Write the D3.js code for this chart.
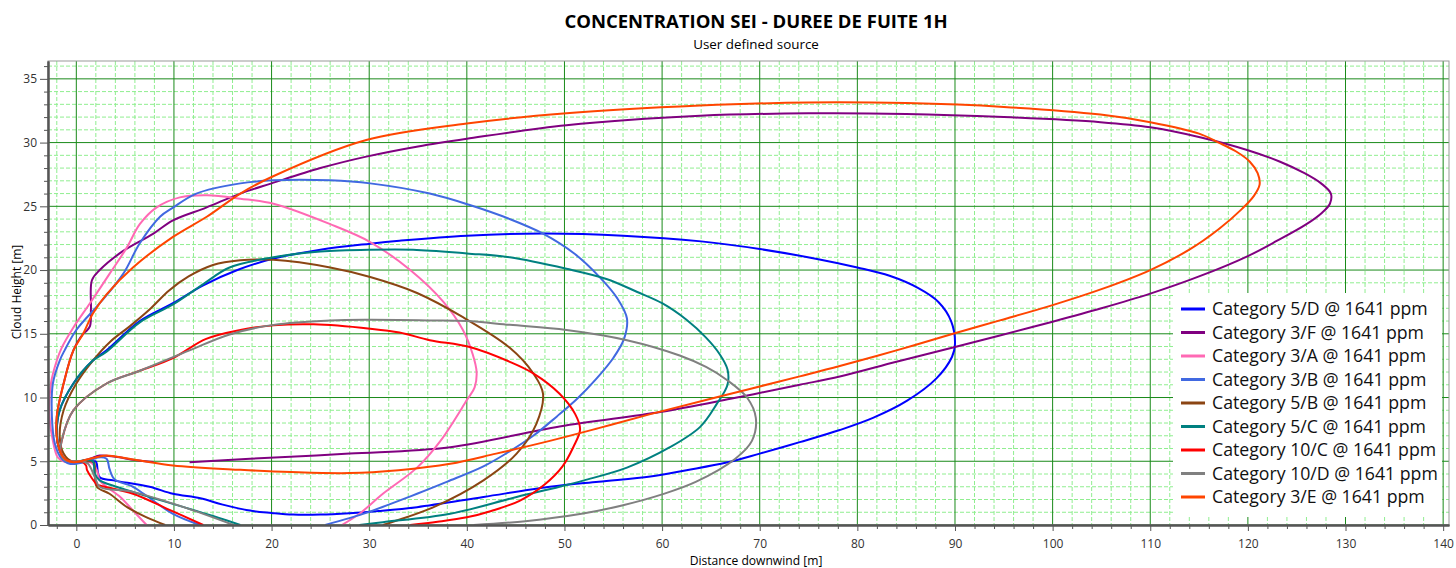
<!DOCTYPE html>
<html>
<head>
<meta charset="utf-8">
<script src="https://cdn.jsdelivr.net/npm/d3@7"></script>
<style>
  body { margin: 0; background: #fff; }
  #chart { width: 1456px; height: 568px; }
  text { font-family: "Open Sans", "Liberation Sans", sans-serif; }
</style>
</head>
<body>
<div id="chart"></div>
<script>
// series labels, in legend order
const categories = ["Category 5/D @ 1641 ppm", "Category 3/F @ 1641 ppm", "Category 3/A @ 1641 ppm",
  "Category 3/B @ 1641 ppm", "Category 5/B @ 1641 ppm", "Category 5/C @ 1641 ppm",
  "Category 10/C @ 1641 ppm", "Category 10/D @ 1641 ppm", "Category 3/E @ 1641 ppm"];

// cloud contours, [distance downwind m, height m]
const cat5D = [[2.0,5.0],[2.1,4.8],[2.4,3.75],[3.8,3.5],[7.5,3.0],[9.9,2.45],[12.7,2.1],[15,1.6],[17.8,1.13],[20,0.95],
  [22.2,0.82],[25,0.82],[28,0.93],[31,1.1],[34.9,1.4],[41.7,2.2],[48.5,3.0],[53.5,3.4],[58.8,3.8],[62.5,4.3],[66.6,4.9],
  [70,5.6],[74.1,6.5],[78.2,7.45],[81.6,8.4],[85.1,9.75],[88.1,11.5],[89.7,13.2],[90,14.2],[89.6,16.0],[88.3,17.5],
  [86.2,18.6],[83.3,19.55],[80,20.2],[76,20.85],[70,21.65],[64,22.25],[56,22.7],[47.8,22.86],[40,22.7],[33.1,22.3],
  [30.1,22.07],[25,21.6],[20.2,20.9],[16.5,20.0],[13,18.8],[9.9,17.4],[6.5,16.0],[3.1,13.7],[1.7,12.9],[-0.3,11.1],
  [-1.7,9.0],[-2.0,7.2],[-1.7,5.85],[-1.2,5.2],[-0.3,4.93],[1.4,5.0],[2.0,5.0]];
const cat3F = [[7.9,4.95],[6,5.1],[4,5.35],[2.4,5.45],[1.4,5.2],[-0.3,4.93],[-1.3,5.3],[-1.9,6.4],[-2.0,8.5],[-1.3,11.1],
  [-0.3,13.7],[0.7,15.0],[1.0,15.2],[1.4,15.6],[1.5,17.0],[1.6,19.2],[2.4,20],[4.8,21.5],[7.9,22.86],[9.9,23.9],
  [13.3,24.9],[16.8,26.0],[20,26.8],[25,28.0],[29.7,28.9],[35,29.7],[40,30.3],[50.2,31.36],[63.9,32.1],[75,32.3],
  [85,32.25],[95,32.0],[104.9,31.6],[110,31.2],[115.2,30.4],[120,29.4],[123.3,28.5],[125.8,27.6],[127.5,26.8],[128.5,26.0],
  [128.4,25.2],[127.6,24.5],[126,23.6],[123,22.3],[120,21.1],[115,19.5],[110,18.15],[105,17.0],[100,15.95],[94.6,14.87],
  [90,13.96],[84,12.8],[78.2,11.65],[74.1,11.0],[67,9.9],[59.8,8.86],[49.5,7.73],[38.3,6.1],[28,5.6],[17.8,5.2],[11.6,4.93]];
const cat3A = [[7.2,0],[5.8,1.14],[4.5,2.2],[3.1,3.0],[2.4,3.5],[2.1,4.3],[1.5,4.9],[0.5,5.0],[-1.2,4.95],[-1.9,5.3],
  [-2.4,6.6],[-2.75,8.5],[-2.6,11.1],[-2.0,12.9],[-1.5,13.9],[-0.3,15.5],[1.4,17.4],[3.4,19.7],[5.2,21.8],[6.5,23.6],
  [8.2,24.9],[10.6,25.7],[13.4,25.86],[16.8,25.6],[20.2,25.2],[26,23.6],[30.1,22.2],[34.2,20.0],[37.6,17.5],[39.6,15.3],
  [40.6,13.4],[41,12.0],[40.8,10.8],[40,9.8],[37.3,6.6],[34.9,4.5],[31.4,2.45],[29,0.88],[27.2,0]];
const cat3B = [[12.7,0],[9.9,0.88],[6.9,2.45],[5.8,3.0],[3.9,3.6],[3.4,4.4],[3.1,5.2],[2.2,5.3],[1.2,5.0],[-0.7,4.8],
  [-1.5,5.2],[-2.2,6.4],[-2.5,8.5],[-2.4,11.1],[-1.7,12.9],[-1.2,13.7],[0,15.3],[2.4,17.4],[4.8,19.7],[6.5,22.1],
  [8.6,24.2],[9.9,24.9],[12.3,26.0],[16.8,26.8],[20.2,27.04],[26,27.04],[30.1,26.8],[36.2,26.0],[40.3,25.1],[44.4,24.0],
  [47.8,22.86],[51,21.3],[53.6,19.45],[55.4,17.8],[56.4,16.2],[56.1,14.6],[55,13.1],[53.3,11.5],[51.3,9.9],[49.2,8.5],
  [46.8,7.0],[44,5.6],[41.7,4.6],[38,3.4],[34.9,2.45],[32,1.6],[29.7,0.95],[25.5,0]];
const cat5B = [[9.1,0],[7.2,0.6],[5.2,1.4],[3.4,2.45],[2.1,3.0],[1.9,4.0],[1.8,4.9],[1.0,5.0],[-0.5,5.0],[-1.3,5.6],
  [-1.7,6.9],[-1.3,9.0],[0,11.1],[1.7,12.9],[3.5,14.4],[5.5,15.6],[7.5,16.9],[9.5,18.4],[11.5,19.5],[14,20.4],
  [16.8,20.76],[20.2,20.8],[26,20.2],[30.1,19.45],[34.9,18.2],[39.6,16.3],[44.4,13.9],[46.8,11.9],[47.8,10.3],
  [47.1,7.9],[45.1,5.6],[41.7,3.5],[36.6,1.4],[31.4,0]];
const cat5C = [[16.8,0],[14,0.7],[11,1.4],[7.5,2.2],[4.1,3.0],[2.4,3.5],[1.9,4.0],[1.7,5.0],[1.0,5.1],[-0.3,4.95],
  [-1.2,5.2],[-1.7,5.85],[-2.0,7.2],[-1.7,9.0],[-0.3,11.1],[1.7,12.9],[3.1,13.6],[6.5,15.9],[9.9,17.3],[13,18.9],
  [15.7,20.2],[20.2,21.0],[25,21.45],[30.1,21.6],[34.5,21.6],[40,21.3],[44.4,21.0],[50.2,20.1],[54.3,19.3],[57.4,18.3],
  [60,17.4],[62.5,16.1],[64.5,14.7],[65.9,13.4],[66.7,12.2],[66.7,11.0],[65.6,9.5],[63.9,7.7],[60.8,6.1],[56.4,4.5],
  [52,3.5],[49.5,3.0],[45.1,2.2],[38.3,0.88],[31.4,0.22],[29,0]];
const cat10C = [[13,0],[9.3,1.27],[5.8,2.45],[2.4,3.1],[2.1,3.2],[1.1,4.3],[1.0,4.67],[0.5,5.0],[-0.5,5.0],[-1.3,5.2],
  [-1.6,5.9],[-1.5,6.6],[-0.3,9.0],[3.1,11.1],[6.5,12.1],[9.9,13.1],[13.3,14.6],[16.8,15.3],[20.2,15.66],[24.3,15.74],
  [30.1,15.4],[33.1,15.1],[36.2,14.5],[40.3,13.96],[44.4,12.8],[46.8,11.9],[49.5,10.3],[51.1,8.7],[51.6,7.5],[50.9,6.1],
  [49.8,4.6],[48,3.2],[45.4,1.9],[42.5,1.1],[40,0.6],[37,0.25],[34.2,0]];
const cat10D = [[16.1,0],[11,1.4],[5.8,2.6],[2.4,3.0],[1.9,3.75],[1.2,4.8],[0.5,5.0],[-0.5,5.0],[-1.2,5.1],[-1.6,5.7],
  [-1.5,6.6],[-0.3,9.0],[3.1,11.1],[6.5,12.1],[11.6,13.7],[15.7,14.95],[20.2,15.7],[26,16.05],[30.1,16.1],[36.2,16.05],
  [40,16.0],[44.4,15.7],[50.2,15.3],[56.4,14.5],[61.8,13.3],[64.5,12.4],[66.6,11.4],[68.7,10.0],[69.6,8.4],[69.2,6.6],
  [67.5,5.2],[63.5,3.4],[60,2.4],[56,1.55],[51.9,0.9],[46,0.3],[40.7,0]];
const cat3E = [[2.4,5.38],[3.1,5.45],[6.5,5.06],[9.9,4.67],[16.8,4.33],[22,4.15],[28,4.07],[33,4.3],[38.3,4.8],[43,5.6],
  [48.5,6.6],[53.5,7.6],[58.8,8.7],[66,10.1],[74.1,11.66],[78.2,12.47],[84,13.7],[89.8,15.0],[94.6,16.05],[100,17.25],
  [105,18.5],[110,20.0],[114,21.6],[117,23.2],[119.4,24.8],[120.6,25.8],[121.2,26.7],[121.0,27.6],[120.2,28.5],[118.8,29.3],
  [117,30.0],[115,30.7],[110,31.6],[104.9,32.2],[95,32.8],[85,33.1],[75,33.15],[63.9,32.9],[50.2,32.3],[40,31.5],
  [29.7,30.2],[20,27.3],[16.8,26.0],[13.4,24.2],[9.9,22.6],[5.8,20.2],[3.1,18.1],[1.7,16.6],[0.7,15.0],[-0.3,13.7],
  [-1.3,11.1],[-2.0,8.5],[-1.9,6.4],[-1.3,5.3],[-0.3,4.93],[1.4,5.2],[2.4,5.38]];

const seriesValues = [cat5D, cat3F, cat3A, cat3B, cat5B, cat5C, cat10C, cat10D, cat3E];
const colors = ["#0000ff", "#800080", "#ff69b4", "#4169e1", "#8b4513", "#008080", "#ff0000", "#808080", "#ff4500"];

const xTickValues = [0, 10, 20, 30, 40, 50, 60, 70, 80, 90, 100, 110, 120, 130, 140];
const yTickValues = [0, 5, 10, 15, 20, 25, 30, 35];

const W = 1456, H = 568;
const plot = { left: 48, right: 1449, top: 61, bottom: 525 };

const svg = d3.select('#chart').append('svg')
  .attr('width', W).attr('height', H);

const x = d3.scaleLinear().domain([-2.9, 140.6]).range([plot.left, plot.right]);
const y = d3.scaleLinear().domain([0, 36.4]).range([plot.bottom, plot.top]);

const xMinor = d3.range(-2, 141, 2).filter(v => v % 10 !== 0);
const yMinor = d3.range(1, 37, 1).filter(v => v % 5 !== 0);

// minor grid, dashed light green
const grid = svg.append('g');
grid.selectAll('.vmin').data(xMinor).enter().append('line')
  .attr('x1', d => x(d)).attr('x2', d => x(d))
  .attr('y1', plot.top).attr('y2', plot.bottom)
  .attr('stroke', '#90ee90').attr('stroke-dasharray', '4,2');
grid.selectAll('.hmin').data(yMinor).enter().append('line')
  .attr('x1', plot.left).attr('x2', plot.right)
  .attr('y1', d => y(d)).attr('y2', d => y(d))
  .attr('stroke', '#90ee90').attr('stroke-dasharray', '4,2');
// major grid
grid.selectAll('.vmaj').data(xTickValues).enter().append('line')
  .attr('x1', d => x(d)).attr('x2', d => x(d))
  .attr('y1', plot.top).attr('y2', plot.bottom)
  .attr('stroke', '#1a8a1a');
grid.selectAll('.hmaj').data(yTickValues).enter().append('line')
  .attr('x1', plot.left).attr('x2', plot.right)
  .attr('y1', d => y(d)).attr('y2', d => y(d))
  .attr('stroke', '#1a8a1a');

// frame
svg.append('rect')
  .attr('x', plot.left).attr('y', plot.top)
  .attr('width', plot.right - plot.left).attr('height', plot.bottom - plot.top)
  .attr('fill', 'none').attr('stroke', '#999');

// curves
const line = d3.line()
  .x(d => x(d[0])).y(d => y(d[1]))
  .curve(d3.curveCatmullRom.alpha(0.5));

svg.append('g')
  .selectAll('path')
  .data(seriesValues)
  .enter()
  .append('path')
    .attr('d', line)
    .attr('fill', 'none')
    .attr('stroke', (d, i) => colors[i])
    .attr('stroke-width', 2)
    .attr('stroke-linejoin', 'round');

// axes
const axisStyle = g => {
  g.select('.domain').attr('stroke', '#555').attr('stroke-width', 2);
  g.selectAll('.tick line').attr('stroke', '#555');
  g.selectAll('text').attr('font-family', '"Liberation Sans", sans-serif')
    .attr('font-size', 12).attr('fill', '#333');
};

svg.append('g').attr('transform', `translate(0,${plot.bottom})`)
  .call(d3.axisBottom(x).tickValues(xMinor).tickSize(4).tickFormat('').tickSizeOuter(0))
  .call(axisStyle);
svg.append('g').attr('transform', `translate(0,${plot.bottom})`)
  .call(d3.axisBottom(x).tickValues(xTickValues).tickSize(6).tickPadding(8).tickSizeOuter(0))
  .call(axisStyle);
svg.append('g').attr('transform', `translate(${plot.left},0)`)
  .call(d3.axisLeft(y).tickValues(yMinor).tickSize(4).tickFormat('').tickSizeOuter(0))
  .call(axisStyle);
svg.append('g').attr('transform', `translate(${plot.left},0)`)
  .call(d3.axisLeft(y).tickValues(yTickValues).tickSize(8).tickPadding(3).tickSizeOuter(0))
  .call(axisStyle);

// titles
svg.append('text')
  .attr('x', 756).attr('y', 28)
  .attr('text-anchor', 'middle')
  .attr('font-size', 18.5).attr('font-weight', 'bold').attr('fill', '#000')
  .text('CONCENTRATION SEI - DUREE DE FUITE 1H');
svg.append('text')
  .attr('x', 756).attr('y', 49)
  .attr('text-anchor', 'middle')
  .attr('font-size', 13.4).attr('fill', '#000')
  .text('User defined source');
svg.append('text')
  .attr('x', 756).attr('y', 565)
  .attr('text-anchor', 'middle')
  .attr('font-size', 12.1).attr('fill', '#000')
  .text('Distance downwind [m]');
svg.append('text')
  .attr('transform', 'translate(21,292) rotate(-90)')
  .attr('text-anchor', 'middle')
  .attr('font-size', 12).attr('fill', '#000')
  .text('Cloud Height [m]');

// legend
const legend = svg.append('g');
legend.append('rect')
  .attr('x', 1173).attr('y', 293)
  .attr('width', 269).attr('height', 224)
  .attr('fill', '#fff');
const rows = legend.selectAll('.row')
  .data(categories)
  .enter()
  .append('g')
    .attr('transform', (d, i) => `translate(1181,${309 + i * 23.5})`);
rows.append('line')
  .attr('x1', 0).attr('x2', 24)
  .attr('stroke', (d, i) => colors[i])
  .attr('stroke-width', 3);
rows.append('text')
  .attr('x', 31).attr('dy', '0.35em')
  .attr('font-size', 17.7).attr('fill', '#111')
  .text(d => d);
</script>
</body>
</html>
